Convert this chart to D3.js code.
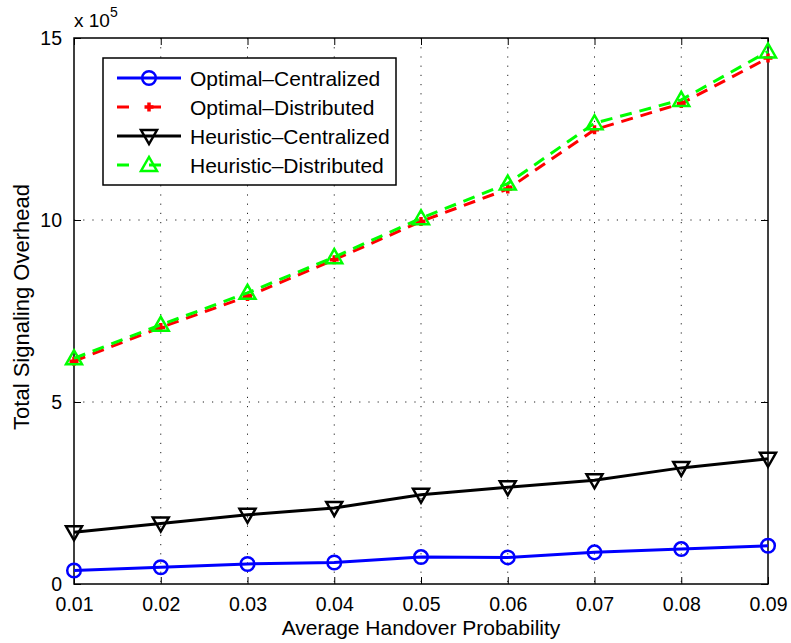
<!DOCTYPE html>
<meta charset="utf-8">
<style>
    body { margin: 0; background: #fff; }
    text { font-family: Arial, "Liberation Sans", sans-serif; fill: #000; }
    .grid line { stroke: #222; stroke-width: 1; stroke-dasharray: 1.2, 8; }
</style>
<body>
<script src="https://d3js.org/d3.v7.min.js"></script>
<script>

// handover probability on the x axis
var probs = [0.01, 0.02, 0.03, 0.04, 0.05, 0.06, 0.07, 0.08, 0.09];

// total signaling overhead per series
var optCentral  = [37000, 46000, 55000, 59000, 74000, 73000, 87000, 96000, 105000];
var optDistrib  = [612000, 705000, 790000, 891000, 996000, 1085000, 1248000, 1320000, 1445000];
var heurCentral = [142000, 166000, 190000, 209000, 245000, 266000, 285000, 319000, 344000];
var heurDistrib = [620000, 712000, 800000, 898000, 1005000, 1100000, 1266000, 1330000, 1463000];

var seriesNames = ["Optimal\u2013Centralized", "Optimal\u2013Distributed",
                   "Heuristic\u2013Centralized", "Heuristic\u2013Distributed"];
var yTicks = [0, 500000, 1000000, 1500000];

var W = 791, H = 643;
var margin = { top: 38, right: 23, bottom: 59, left: 74 },
    width = W - margin.left - margin.right,
    height = H - margin.top - margin.bottom;

var x = d3.scaleLinear().domain([0.01, 0.09]).range([0, width]);
var y = d3.scaleLinear().domain([0, 1500000]).range([height, 0]);

var svg = d3.select("body").append("svg")
    .attr("width", W)
    .attr("height", H);

var g = svg.append("g")
    .attr("transform", "translate(" + margin.left + "," + margin.top + ")");

// dotted grid
var grid = g.append("g").attr("class", "grid");
grid.selectAll(".vx").data(probs.slice(1, -1)).enter().append("line")
    .attr("x1", function (d) { return x(d); })
    .attr("x2", function (d) { return x(d); })
    .attr("y1", 0).attr("y2", height);
grid.selectAll(".hy").data(yTicks.slice(1, -1)).enter().append("line")
    .attr("y1", function (d) { return y(d); })
    .attr("y2", function (d) { return y(d); })
    .attr("x1", 0).attr("x2", width);

// axes, ticks pointing inward on all four sides
function styleAxis(sel) {
    sel.select(".domain").remove();
    sel.selectAll(".tick line").attr("stroke", "#000").attr("stroke-width", 1);
    sel.selectAll(".tick text").style("font-size", "19.5px").attr("fill", "#000");
}

var fmtX = function (d) { return d3.format(".2f")(d); };
var fmtY = function (d) { return d / 100000; };

g.append("g")
    .attr("transform", "translate(0," + height + ")")
    .call(d3.axisBottom(x).tickValues(probs).tickFormat(fmtX).tickSizeInner(-7).tickSizeOuter(0).tickPadding(13))
    .call(styleAxis);
g.append("g")
    .call(d3.axisTop(x).tickValues(probs).tickFormat("").tickSizeInner(-7).tickSizeOuter(0))
    .call(styleAxis);
g.append("g")
    .call(d3.axisLeft(y).tickValues(yTicks).tickFormat(fmtY).tickSizeInner(-7).tickSizeOuter(0).tickPadding(12))
    .call(styleAxis);
g.append("g")
    .attr("transform", "translate(" + width + ",0)")
    .call(d3.axisRight(y).tickValues(yTicks).tickFormat("").tickSizeInner(-7).tickSizeOuter(0))
    .call(styleAxis);

g.append("rect")
    .attr("width", width).attr("height", height)
    .attr("fill", "none").attr("stroke", "#000").attr("stroke-width", 1.5);

// exponent label
var expo = svg.append("text")
    .attr("x", margin.left)
    .attr("y", 27)
    .style("font-size", "19px");
expo.append("tspan").text("x 10");
expo.append("tspan").attr("dy", -10).style("font-size", "14px").text("5");

// axis titles
svg.append("text")
    .attr("x", margin.left + width / 2)
    .attr("y", 635)
    .attr("text-anchor", "middle")
    .style("font-size", "21px")
    .text("Average Handover Probability");

svg.append("text")
    .attr("transform", "translate(29," + (margin.top + height / 2 - 4) + ") rotate(-90)")
    .attr("text-anchor", "middle")
    .style("font-size", "22px")
    .text("Total Signaling Overhead");

// series
var series = [
    { name: seriesNames[0], values: optCentral,  color: "#0000ff", dash: null,   marker: "circle" },
    { name: seriesNames[1], values: optDistrib,  color: "#ff0000", dash: "12,8", marker: "plus" },
    { name: seriesNames[2], values: heurCentral, color: "#000000", dash: null,   marker: "tridown" },
    { name: seriesNames[3], values: heurDistrib, color: "#00ff00", dash: "12,8", marker: "triup" }
];

var line = d3.line()
    .x(function (d, i) { return x(probs[i]); })
    .y(function (d) { return y(d); });

function drawMarker(sel, s, cx, cy) {
    if (s.marker === "circle") {
        sel.append("circle").attr("cx", cx).attr("cy", cy).attr("r", 6.8)
            .attr("fill", "none").attr("stroke", s.color).attr("stroke-width", 2.5);
    } else if (s.marker === "plus") {
        sel.append("path")
            .attr("d", "M" + (cx - 4.5) + "," + cy + "h9M" + cx + "," + (cy - 4.5) + "v9")
            .attr("stroke", s.color).attr("stroke-width", 3.5).attr("fill", "none");
    } else if (s.marker === "tridown") {
        sel.append("path")
            .attr("d", "M" + (cx - 8) + "," + (cy - 6) + "L" + (cx + 8) + "," + (cy - 6) + "L" + cx + "," + (cy + 8) + "Z")
            .attr("fill", "none").attr("stroke", s.color).attr("stroke-width", 2.5);
    } else {
        sel.append("path")
            .attr("d", "M" + (cx - 8) + "," + (cy + 6) + "L" + (cx + 8) + "," + (cy + 6) + "L" + cx + "," + (cy - 8) + "Z")
            .attr("fill", "none").attr("stroke", s.color).attr("stroke-width", 2.5);
    }
}

series.forEach(function (s) {
    var sg = g.append("g");
    sg.append("path")
        .datum(s.values)
        .attr("d", line)
        .attr("fill", "none")
        .attr("stroke", s.color)
        .attr("stroke-width", 3)
        .attr("stroke-dasharray", s.dash);
    s.values.forEach(function (v, i) {
        drawMarker(sg, s, x(probs[i]), y(v));
    });
});

// legend
var lg = svg.append("g").attr("transform", "translate(103,58)");
lg.append("rect")
    .attr("width", 293).attr("height", 127)
    .attr("fill", "#fff").attr("stroke", "#000").attr("stroke-width", 1.5);

series.forEach(function (s, i) {
    var ry = 20 + i * 29;
    lg.append("line")
        .attr("x1", 14).attr("x2", 78)
        .attr("y1", ry).attr("y2", ry)
        .attr("stroke", s.color).attr("stroke-width", 3)
        .attr("stroke-dasharray", s.dash ? "12,20" : null);
    drawMarker(lg, s, 46, ry);
    lg.append("text")
        .attr("x", 87).attr("y", ry + 7.5)
        .style("font-size", "21px")
        .text(s.name);
});

</script>
</body>
